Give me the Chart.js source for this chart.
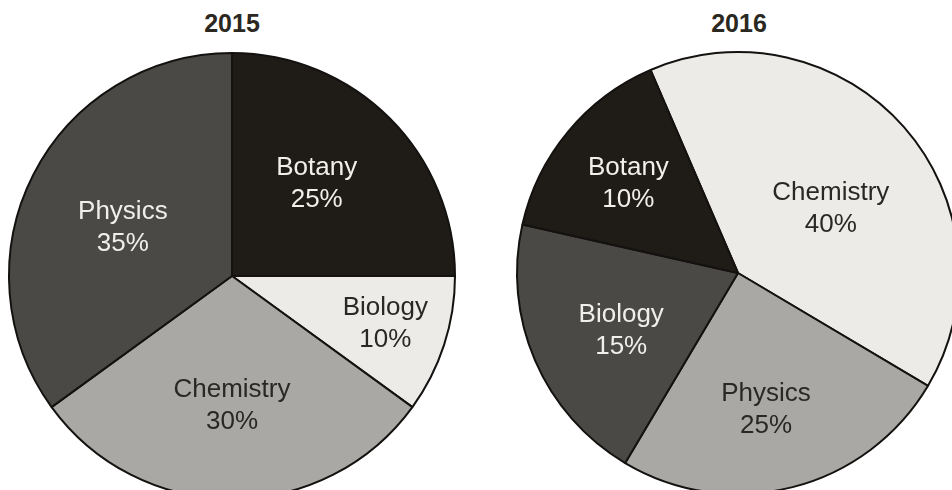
<!DOCTYPE html>
<html>
<head>
<meta charset="utf-8">
<title>2015 / 2016</title>
<script src="https://cdn.jsdelivr.net/npm/chart.js@4.4.1/dist/chart.umd.min.js"></script>
<style>
    html, body { margin: 0; padding: 0; background: #fff; overflow: hidden; }
    body { width: 952px; height: 490px; position: relative; font-family: "Liberation Sans", Arial, sans-serif; }
    .year { position: absolute; top: 9px; width: 200px; margin-left: -100px; text-align: center;
            font-weight: bold; font-size: 25px; color: #2b2822; }
    .pie { position: absolute; top: 0; }
</style>
</head>
<body>
<div class="year" style="left:232px;">2015</div>
<div class="year" style="left:739px;">2016</div>
<div class="pie" style="left:0; width:464px; height:552px;"><canvas id="pie2015"></canvas></div>
<div class="pie" style="left:508px; width:460px; height:546px;"><canvas id="pie2016"></canvas></div>

<script>
// 2015 slices, clockwise from 12 o'clock
const subjects2015 = ['Botany', 'Biology', 'Chemistry', 'Physics'];
const share2015 = [25, 10, 30, 35];
const printed2015 = ['25%', '10%', '30%', '35%'];

// 2016 slices, clockwise from the Botany/Chemistry edge.
// Slice sizes as drawn; the printed labels in the original don't add up to 100.
const subjects2016 = ['Chemistry', 'Physics', 'Biology', 'Botany'];
const share2016 = [40, 25, 20, 15];
const printed2016 = ['40%', '25%', '15%', '10%'];

const BLACK = '#1f1c18', DARK = '#4b4945', MID = '#a9a8a4', LIGHT = '#ecebe8';

// draws "Name / xx%" inside each slice
const sliceLabels = {
    id: 'sliceLabels',
    afterDatasetsDraw(chart, args, opts) {
        const ctx = chart.ctx;
        const arcs = chart.getDatasetMeta(0).data;
        ctx.save();
        ctx.font = '26px "Liberation Sans", Arial, sans-serif';
        ctx.textAlign = 'center';
        ctx.textBaseline = 'middle';
        arcs.forEach((arc, i) => {
            const p = arc.getProps(['x', 'y', 'startAngle', 'endAngle', 'outerRadius'], true);
            const [frac, nudge] = opts.place[i];
            const a = (p.startAngle + p.endAngle) / 2 + nudge * Math.PI / 180;
            const r = p.outerRadius * frac;
            const x = p.x + Math.cos(a) * r;
            const y = p.y + Math.sin(a) * r;
            ctx.fillStyle = opts.textColors[i];
            ctx.fillText(chart.data.labels[i], x, y - 16);
            ctx.fillText(opts.printed[i], x, y + 16);
        });
        ctx.restore();
    }
};

function makePie(id, labels, values, printed, colors, textColors, radius, rotation, place) {
    new Chart(document.getElementById(id), {
        type: 'pie',
        data: {
            labels: labels,
            datasets: [{
                data: values,
                backgroundColor: colors,
                borderColor: '#141210',
                borderWidth: 2
            }]
        },
        options: {
            responsive: true,
            maintainAspectRatio: false,
            animation: false,
            radius: radius,
            rotation: rotation,
            layout: { padding: 0 },
            plugins: {
                legend: { display: false },
                tooltip: { enabled: false },
                sliceLabels: { printed: printed, textColors: textColors, place: place }
            }
        },
        plugins: [sliceLabels]
    });
}

makePie('pie2015', subjects2015, share2015, printed2015,
    [BLACK, LIGHT, MID, DARK],
    ['#f0efec', '#2a2824', '#2a2824', '#f0efec'],
    223, 0,
    [[0.56, -2.3], [0.72, -0.7], [0.58, 0], [0.535, -3.2]]);

makePie('pie2016', subjects2016, share2016, printed2016,
    [LIGHT, MID, DARK, BLACK],
    ['#2a2824', '#2a2824', '#f0efec', '#f0efec'],
    221, -23.3,
    [[0.51, 6.75], [0.63, 2.7], [0.59, -3.1], [0.64, -0.5]]);
</script>
</body>
</html>
